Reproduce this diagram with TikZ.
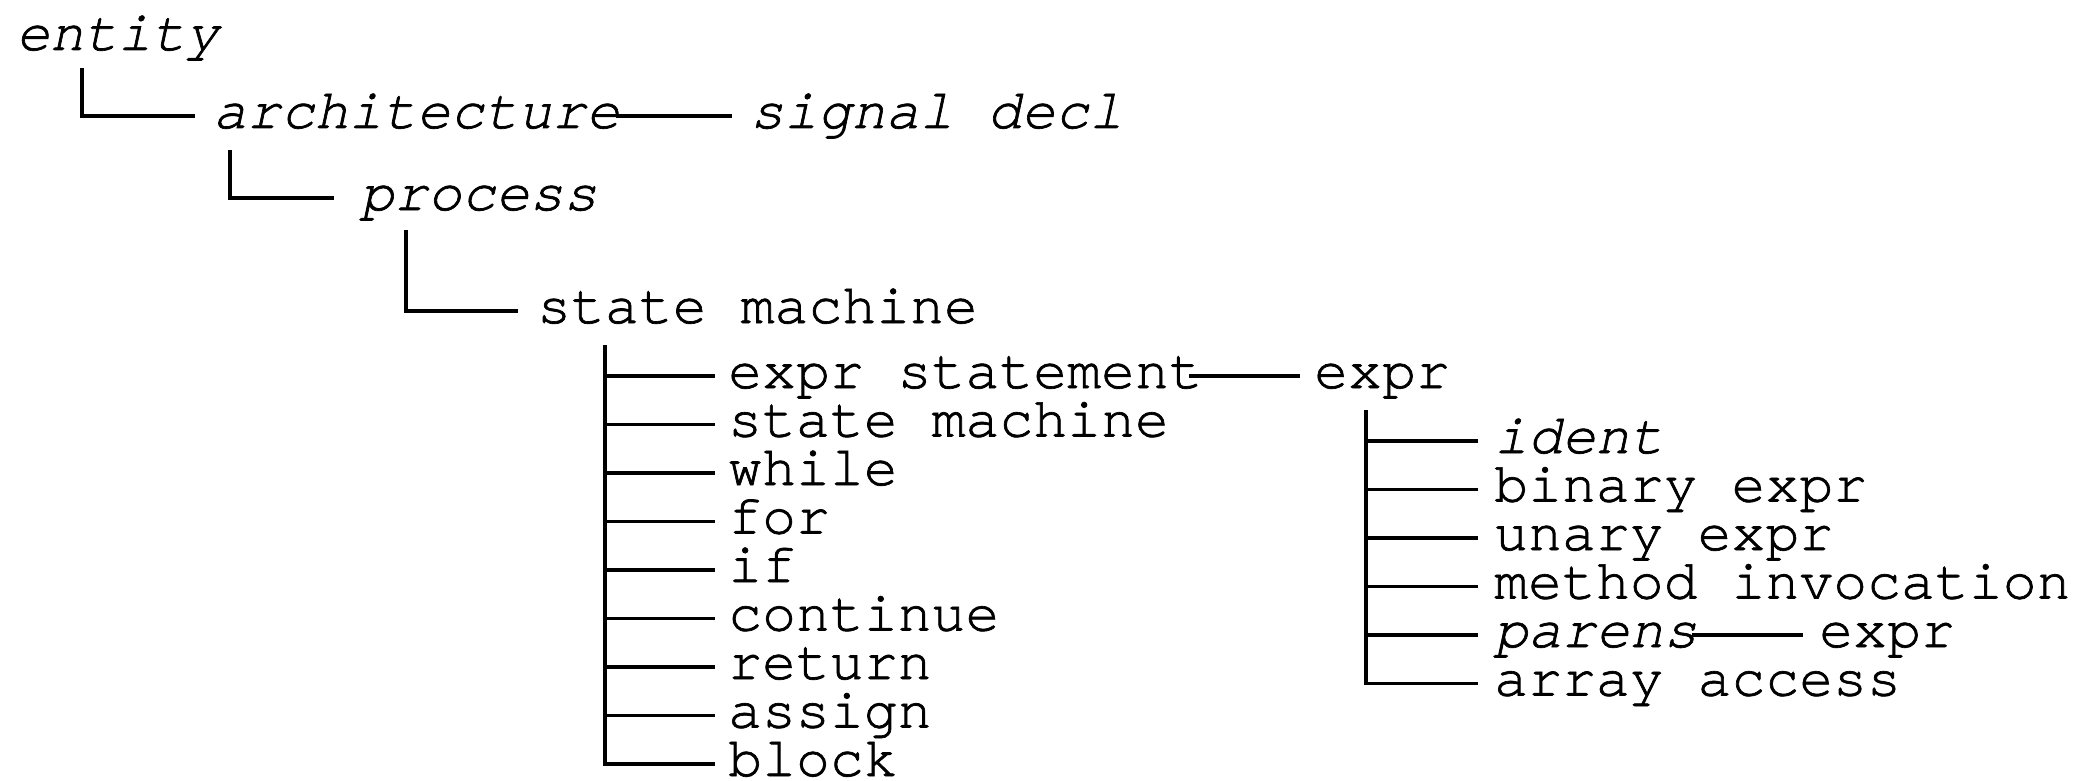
\documentclass[tikz,border=0pt]{standalone}
\usepackage{fontspec}
\newfontfamily\treemono{texgyrecursor}[
  Extension=.otf,
  UprightFont=*-regular,
  ItalicFont=*-italic,
  BoldFont=*-bold,
  BoldItalicFont=*-bolditalic,
  FakeBold=1.2]
\usetikzlibrary{calc}

\tikzset{
  lbl/.style={anchor=west, inner sep=0pt, text height=24pt, text depth=0pt,
              font=\treemono\fontsize{56.5pt}{56.5pt}\selectfont},
  abstract/.style={lbl, font=\treemono\itshape\fontsize{56.5pt}{56.5pt}\selectfont},
  branch/.style={line width=3.5pt, line join=miter}
}

\begin{document}
\begin{tikzpicture}[x=1pt, y=-1pt]
\useasboundingbox (0,0) rectangle (2094,781);

% top-level chain
\node[abstract] (entity) at (16,38)  {entity};
\node[abstract] (arch)   at (213,116) {architecture};
\node[abstract] (sig)    at (750,116) {signal decl};
\node[abstract] (proc)   at (360,198) {process};
\node[lbl]      (sm)     at (537,311) {state machine};

% statements of the state machine
\node[lbl] (es)     at (728,376)   {expr statement};
\node[lbl] (sm2)    at (728,424.5) {state machine};
\node[lbl] (wh)     at (728,473)   {while};
\node[lbl] (fr)     at (728,521.5) {for};
\node[lbl] (ifs)    at (728,570)   {if};
\node[lbl] (cont)   at (728,618.5) {continue};
\node[lbl] (ret)    at (728,667)   {return};
\node[lbl] (asg)    at (728,715.5) {assign};
\node[lbl] (blk)    at (728,764)   {block};

% expressions
\node[lbl]      (expr)   at (1314,376)   {expr};
\node[abstract] (ident)  at (1494,441)   {ident};
\node[lbl]      (bin)    at (1494,489.5) {binary expr};
\node[lbl]      (un)     at (1494,538)   {unary expr};
\node[lbl]      (meth)   at (1494,586.5) {method invocation};
\node[abstract] (par)    at (1494,635)   {parens};
\node[lbl]      (arr)    at (1494,683.5) {array access};
\node[lbl]      (expr2)  at (1819,635)   {expr};

% tops of the vertical branches
\coordinate (entityTop) at (82,68);
\coordinate (archTop)   at (230,150);
\coordinate (procTop)   at (406,230);
\coordinate (smTop)     at (605,345);
\coordinate (exprTop)   at (1366,410);

% single-child branches
\draw[branch] (entityTop) |- ([xshift=-18pt]arch.west);
\draw[branch] (archTop)   |- ([xshift=-26pt]proc.west);
\draw[branch] (procTop)   |- ([xshift=-19pt]sm.west);

% siblings on one line
\draw[branch] ([xshift=-4pt]arch.east) -- ([xshift=-18pt]sig.west);
\draw[branch] ([xshift=-14pt]es.east) -- ([xshift=-14pt]expr.west);
\draw[branch] ([xshift=-6pt]par.east) -- ([xshift=-16pt]expr2.west);

% statement list
\draw[branch] (smTop) |- ([xshift=-13pt]blk.west);
\foreach \n in {es,sm2,wh,fr,ifs,cont,ret,asg}
  \draw[branch] (smTop |- \n.west) -- ([xshift=-13pt]\n.west);

% expression list
\draw[branch] (exprTop) |- ([xshift=-16pt]arr.west);
\foreach \n in {ident,bin,un,meth,par}
  \draw[branch] (exprTop |- \n.west) -- ([xshift=-16pt]\n.west);
\end{tikzpicture}
\end{document}
